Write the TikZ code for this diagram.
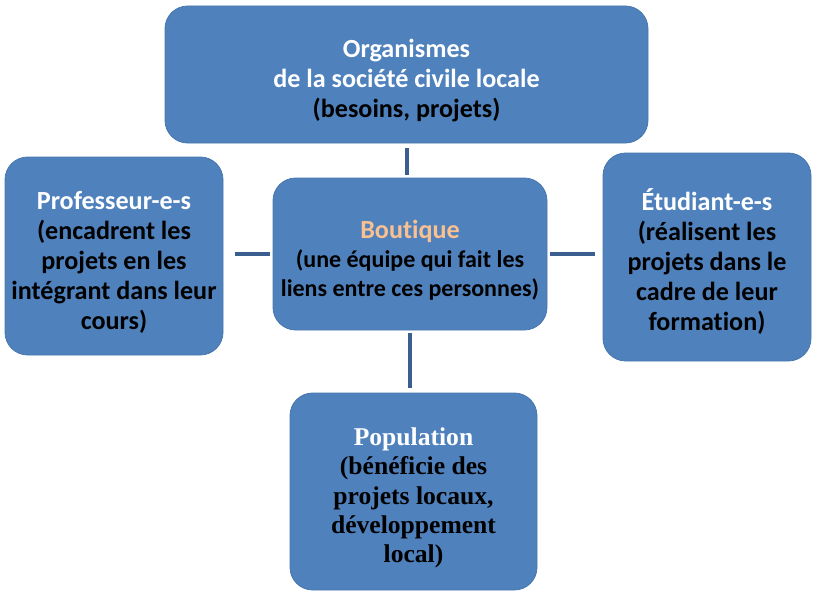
\documentclass[tikz,border=0pt]{standalone}
\usepackage{fontspec}
\setmainfont{Carlito}[Ligatures=NoCommon]
\newfontfamily\popfont{Liberation Serif}
\definecolor{boxblue}{HTML}{4F81BD}
\definecolor{boxedge}{HTML}{4776AE}
\definecolor{linkblue}{HTML}{3A5F8E}
\definecolor{titleorange}{HTML}{FAC090}
% extra room above the first line, so each text block sits a little low in its card
\newcommand\cardgap{\rule{0pt}{23pt}}
\begin{document}
\begin{tikzpicture}[x=0.75pt,y=-0.75pt,
  card/.style={rectangle, rounded corners=17pt, fill=boxblue, draw=boxedge,
    line width=0.6pt, align=center, inner sep=0pt,
    font=\fontsize{19.6}{22.5}\selectfont\bfseries},
  link/.style={draw=linkblue, line width=3pt}]
\useasboundingbox (0,0) rectangle (814,592);

\node[card, minimum width=362.25pt, minimum height=102.75pt] (org) at (406.5,74.5)
  {\cardgap\textcolor{white}{Organismes}\\\textcolor{white}{de la société civile locale}\\(besoins, projets)};
\node[card, minimum width=163.5pt, minimum height=148.5pt] (prof) at (114,256)
  {\cardgap\textcolor{white}{Professeur-e-s}\\(encadrent les\\projets en les\\intégrant dans leur\\cours)};
\node[card, minimum width=205.5pt, minimum height=114pt,
  font=\fontsize{18}{22}\selectfont\bfseries] (bout) at (410,254)
  {\cardgap\textcolor{titleorange}{\fontsize{19.6}{22}\selectfont Boutique}\\(une équipe qui fait les\\liens entre ces personnes)};
\node[card, minimum width=156pt, minimum height=156pt] (etu) at (707,257)
  {\cardgap\textcolor{white}{Étudiant-e-s}\\(réalisent les\\projets dans le\\cadre de leur\\formation)};
\node[card, minimum width=185.25pt, minimum height=147.75pt,
  font=\fontsize{19.2}{22}\selectfont\popfont\bfseries] (pop) at (413.5,491.5)
  {\cardgap\textcolor{white}{Population}\\(bénéficie des\\projets locaux,\\développement\\local)};

\draw[link, shorten <=3.75pt, shorten >=2.25pt] (org.south) -- (org.south |- bout.north);
\draw[link, shorten <=9pt, shorten >=2.25pt] (prof.east |- bout.west) -- (bout.west);
\draw[link, shorten <=2.25pt, shorten >=6pt] (bout.east) -- (etu.west |- bout.east);
\draw[link, shorten <=2.25pt, shorten >=3.75pt] (bout.south) -- (pop.north -| bout.south);
\end{tikzpicture}
\end{document}
